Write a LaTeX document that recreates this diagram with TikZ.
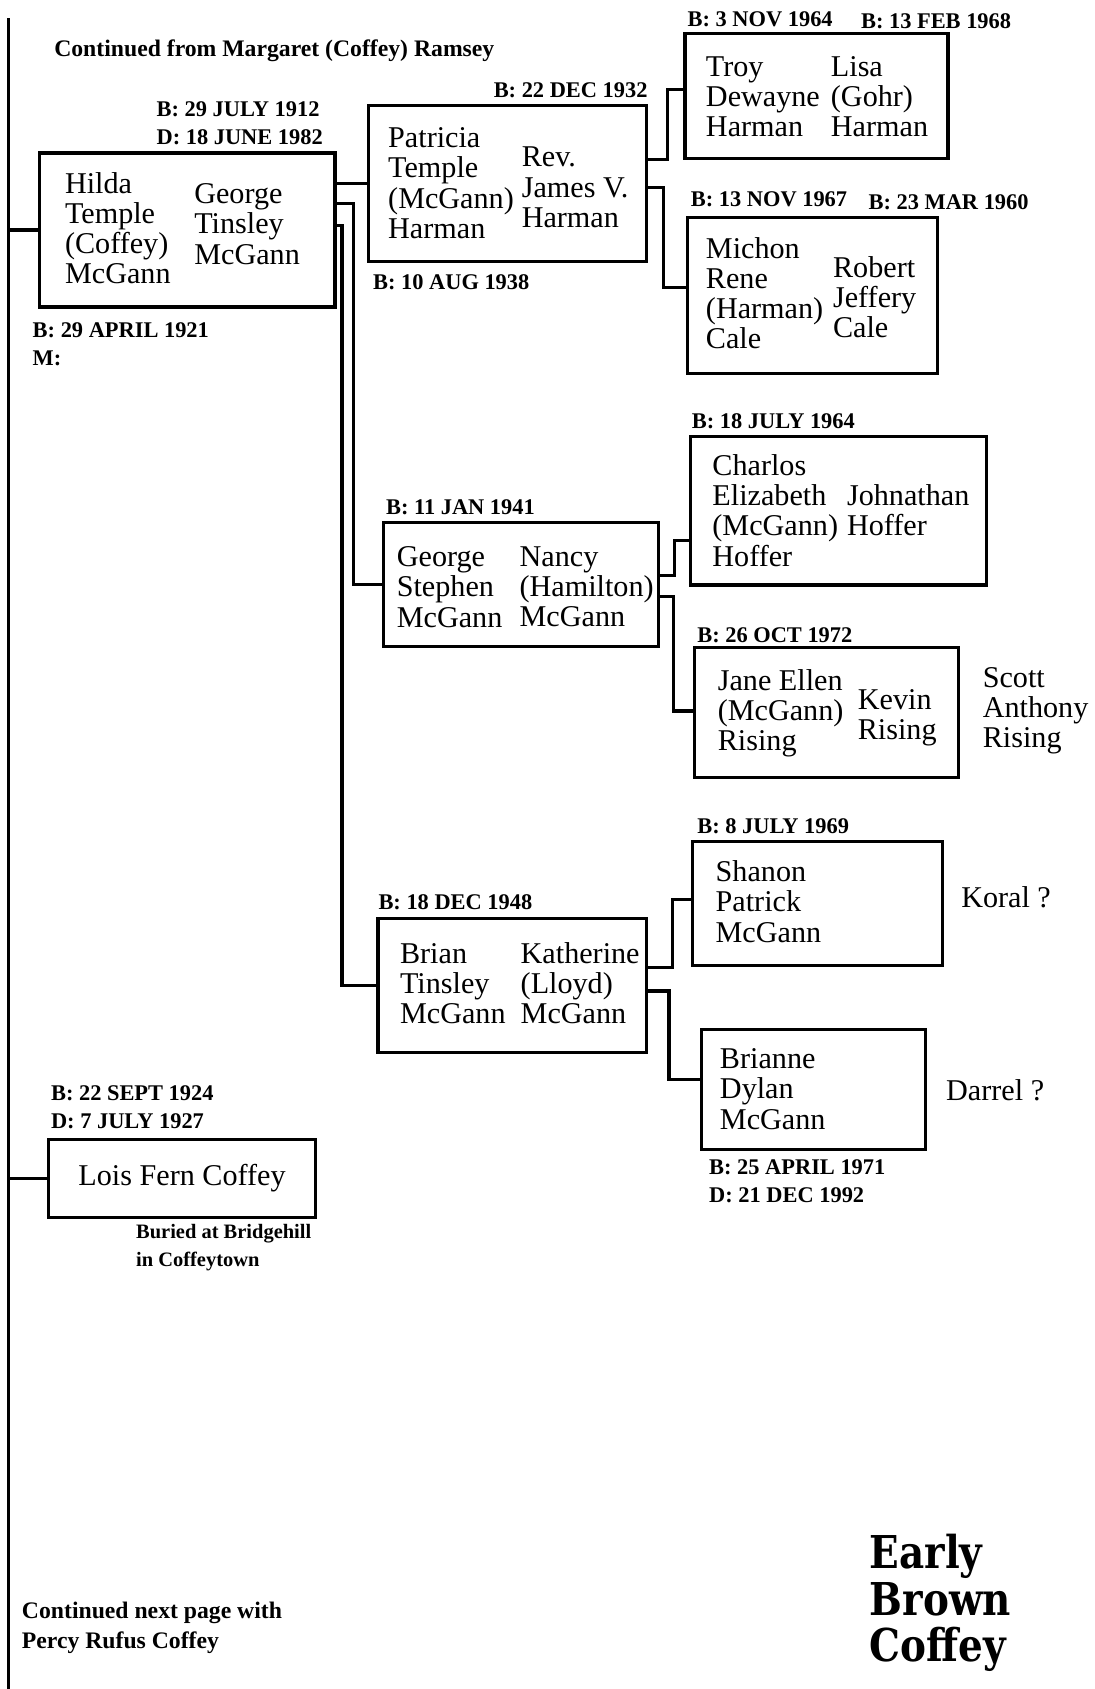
\documentclass[tikz,border=0pt]{standalone}
\usepackage{fontspec}
\setmainfont{Liberation Serif}
\newfontfamily\titlefont[FakeStretch=0.86]{DejaVu Serif}
\usetikzlibrary{fit,calc}

\newcommand{\namesize}{\fontsize{14}{14}\selectfont}
\newcommand{\datesize}{\fontsize{10.4}{13}\selectfont\bfseries}

\begin{document}
\begin{tikzpicture}[x=0.5pt,y=-0.5pt,
  fambox/.style={draw,rectangle,inner sep=0pt,line width=1.5pt},
  names/.style={font=\namesize,align=left,inner sep=0pt,anchor=west},
  dates/.style={font=\datesize,align=left,inner sep=0pt,anchor=west},
  note/.style={font=\fontsize{11}{14}\selectfont\bfseries,align=left,inner sep=0pt,anchor=west},
  link/.style={line width=1.5pt}]

\useasboundingbox (0,0) rectangle (1016,1568);

% family boxes
\foreach \name/\xa/\ya/\xb/\yb in {%
  hilda/37/142/311/285, patricia/342/98/600/243,
  troy/636/31/880/147, michon/638/202/870/347,
  george/356/485/611/600, charlos/641/405/916/543,
  jane/645/601/890/722, brian/351/853/600/977,
  shanon/643/781/875/896, brianne/651/956/859/1067,
  lois/45/1058/293/1130}
  \node[fambox,fit={(\xa,\xa |- 0,\ya) (\xb,\yb)}] (\name) {};

% names inside (and beside) the boxes
\foreach \n/\x/\y/\txt in {%
  hildaL/60/212/{Hilda\\Temple\\(Coffey)\\McGann},
  hildaR/180/208/{George\\Tinsley\\McGann},
  patriciaL/360/170/{Patricia\\Temple\\(McGann)\\Harman},
  patriciaR/484/174/{Rev.\\James V.\\Harman},
  troyL/655/90/{Troy\\Dewayne\\Harman},
  troyR/771/90/{Lisa\\(Gohr)\\Harman},
  michonL/655/272/{Michon\\Rene\\(Harman)\\Cale},
  michonR/773/276/{Robert\\Jeffery\\Cale},
  georgeL/368/545/{George\\Stephen\\McGann},
  georgeR/482/545/{Nancy\\(Hamilton)\\McGann},
  charlosL/661/474/{Charlos\\Elizabeth\\(McGann)\\Hoffer},
  charlosR/786/474/{Johnathan\\Hoffer},
  janeL/666/662/{Jane Ellen\\(McGann)\\Rising},
  janeR/796/666/{Kevin\\Rising},
  scott/912/660/{Scott\\Anthony\\Rising},
  brianL/371/913/{Brian\\Tinsley\\McGann},
  brianR/483/913/{Katherine\\(Lloyd)\\McGann},
  shanonL/664/837/{Shanon\\Patrick\\McGann},
  koral/892/833/{Koral ?},
  brianneL/668/1011/{Brianne\\Dylan\\McGann},
  darrel/878/1012/{Darrel ?}}
  \node[names] (\n) at (\x,\y) {\txt};
\node[font=\namesize,inner sep=0pt] (loisN) at (lois) {Lois Fern Coffey};

% birth, death and marriage dates
\foreach \n/\x/\y/\txt in {%
  dHilda/145/114/{B: 29 JULY 1912\\D: 18 JUNE 1982},
  dHildaB/30/320/{B: 29 APRIL 1921\\M:},
  dPatA/458/84/{B: 22 DEC 1932},
  dPatB/346/262/{B: 10 AUG 1938},
  dTroy/638/18/{B: 3 NOV 1964},
  dLisa/799/20/{B: 13 FEB 1968},
  dMichon/641/185/{B: 13 NOV 1967},
  dRobert/806/188/{B: 23 MAR 1960},
  dGeorge/358/471/{B: 11 JAN 1941},
  dCharlos/642/391/{B: 18 JULY 1964},
  dJane/647/590/{B: 26 OCT 1972},
  dBrian/351/838/{B: 18 DEC 1948},
  dShanon/647/767/{B: 8 JULY 1969},
  dBrianne/658/1097/{B: 25 APRIL 1971\\D: 21 DEC 1992},
  dLois/47/1028/{B: 22 SEPT 1924\\D: 7 JULY 1927}}
  \node[dates] (\n) at (\x,\y) {\txt};
\node[dates,font=\fontsize{9.5}{13}\selectfont\bfseries] (buried) at (126,1158)
  {Buried at Bridgehill\\in Coffeytown};

\node[note] (fromnote) at (50,47) {Continued from Margaret (Coffey) Ramsey};
\node[note] (nextnote) at (20,1511) {Continued next page with\\Percy Rufus Coffey};
\node[font=\titlefont\bfseries\fontsize{21}{21.5}\selectfont,align=left,inner sep=0pt,anchor=west]
  (title) at (807,1488) {Early\\Brown\\Coffey};

% descent lines
\coordinate (spinetop) at (8,17);
\coordinate (spinebot) at (8,1568);
\draw[link] (spinetop) -- (spinebot);
\draw[link] (hilda.west -| spinetop) -- (hilda.west);
\draw[link] (lois.west -| spinetop) -- (lois.west);

\draw[link] (hilda.east |- patricia.west) -- (patricia.west);
\draw[link] (hilda.east |- 0,189) -| ($(george.west)+(-26,0)$) -- (george.west);
\draw[link] (hilda.east |- 0,209) -| ($(brian.west)+(-32,0)$) -- (brian.west);

\draw[link] (patricia.east |- 0,148) -| (620,83) -- (troy.west |- 0,83);
\draw[link] (patricia.east |- 0,174) -| (616,267) -- (michon.west |- 0,267);

\draw[link] (george.east |- 0,534) -| (626,502) -- (charlos.west |- 0,502);
\draw[link] (george.east |- 0,554) -| (625,660) -- (jane.west |- 0,660);

\draw[link] (brian.east |- 0,898) -| (624,835) -- (shanon.west |- 0,835);
\draw[link] (brian.east |- 0,920) -| (621,1002) -- (brianne.west |- 0,1002);

\end{tikzpicture}
\end{document}
